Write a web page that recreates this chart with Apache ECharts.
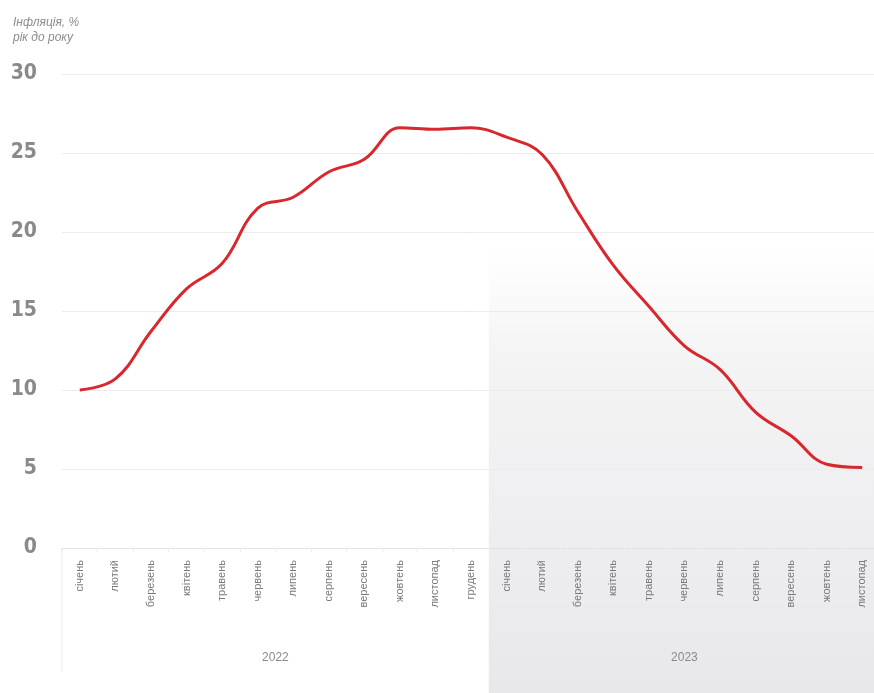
<!DOCTYPE html>
<html><head><meta charset="utf-8">
<script src="https://cdn.jsdelivr.net/npm/echarts@6/dist/echarts.min.js"></script>
<style>html,body{margin:0;padding:0;background:#fff}#c{width:874px;height:693px}</style>
</head><body><div id="c"></div>
<script>
const months = ['січень','лютий','березень','квітень','травень','червень','липень','серпень','вересень','жовтень','листопад','грудень',
                'січень','лютий','березень','квітень','травень','червень','липень','серпень','вересень','жовтень','листопад'];
const years = ['2022', '2023'];
const yearStartIndex = [0, 12];
const inflation = [10.0, 10.7, 13.7, 16.4, 18.0, 21.5, 22.2, 23.8, 24.6, 26.6, 26.5, 26.6,
                   26.0, 24.9, 21.3, 17.9, 15.3, 12.8, 11.3, 8.6, 7.1, 5.3, 5.1];
const yMin = 0, yMax = 30, yStep = 5;
const titleLines = ['Інфляція, %', 'рік до року'];

const chart = echarts.init(document.getElementById('c'));
chart.setOption({
  animation: false,
  backgroundColor: '#fff',
  title: {
    text: titleLines.join('\n'), left: 8, top: 10,
    textStyle: { fontStyle: 'italic', fontWeight: 'normal', fontSize: 12, color: '#8c8c8c', lineHeight: 15, fontFamily: 'Liberation Sans' }
  },
  grid: { left: 62, right: -6, top: 74, bottom: 145, containLabel: false, outerBoundsMode: 'none' },
  xAxis: {
    type: 'category', data: months, boundaryGap: true,
    axisLine: { lineStyle: { color: '#e2e2e2' } },
    axisTick: { show: true, alignWithLabel: false, length: 4, lineStyle: { color: '#eeeeee' } },
    axisLabel: { interval: 0, rotate: 90, margin: 12, fontSize: 11, color: '#7a7a7a', fontFamily: 'Liberation Sans' }
  },
  yAxis: {
    type: 'value', min: yMin, max: yMax, interval: yStep,
    axisLine: { show: false }, axisTick: { show: false },
    splitLine: { lineStyle: { color: '#ececec', width: 1 } },
    axisLabel: { margin: 25, fontSize: 21, fontWeight: 'bold', color: '#8a8a8a', fontFamily: 'Liberation Sans Narrow, DejaVu Sans Condensed' }
  },
  series: [{
    type: 'line', data: inflation, smooth: 0.4, symbol: 'none',
    lineStyle: { color: '#d9272e', width: 3 }, z: 5
  }]
});

function px(i) { return chart.convertToPixel({ xAxisIndex: 0 }, i); }
const step = px(1) - px(0);
const g = [];
const bounds = yearStartIndex.map(i => px(i) - step / 2);
bounds.push(px(months.length - 1) + step / 2);
// shaded 2023 area
g.push({
  type: 'rect', z: -10, silent: true,
  shape: { x: bounds[1], y: 250, width: 900 - bounds[1], height: 693 - 250 },
  style: { fill: new echarts.graphic.LinearGradient(0, 0, 0, 1, [
    { offset: 0, color: 'rgba(236,236,238,0)' },
    { offset: 0.25, color: 'rgba(236,236,238,0.6)' },
    { offset: 1, color: 'rgba(232,232,234,1)' }
  ]) }
});
// left separator line
g.push({ type: 'line', z: 1, silent: true, shape: { x1: bounds[0], y1: 548, x2: bounds[0], y2: 672 }, style: { stroke: '#ececec', lineWidth: 1 } });
years.forEach((y, k) => {
  const cx = (bounds[k] + bounds[k + 1]) / 2;
  g.push({ type: 'text', z: 3, silent: true, x: cx, y: 658,
    style: { text: y, fill: '#8a8a8a', fontSize: 12, fontFamily: 'Liberation Sans', align: 'center', verticalAlign: 'middle' } });
});
chart.setOption({ graphic: g });
</script>
</body></html>
